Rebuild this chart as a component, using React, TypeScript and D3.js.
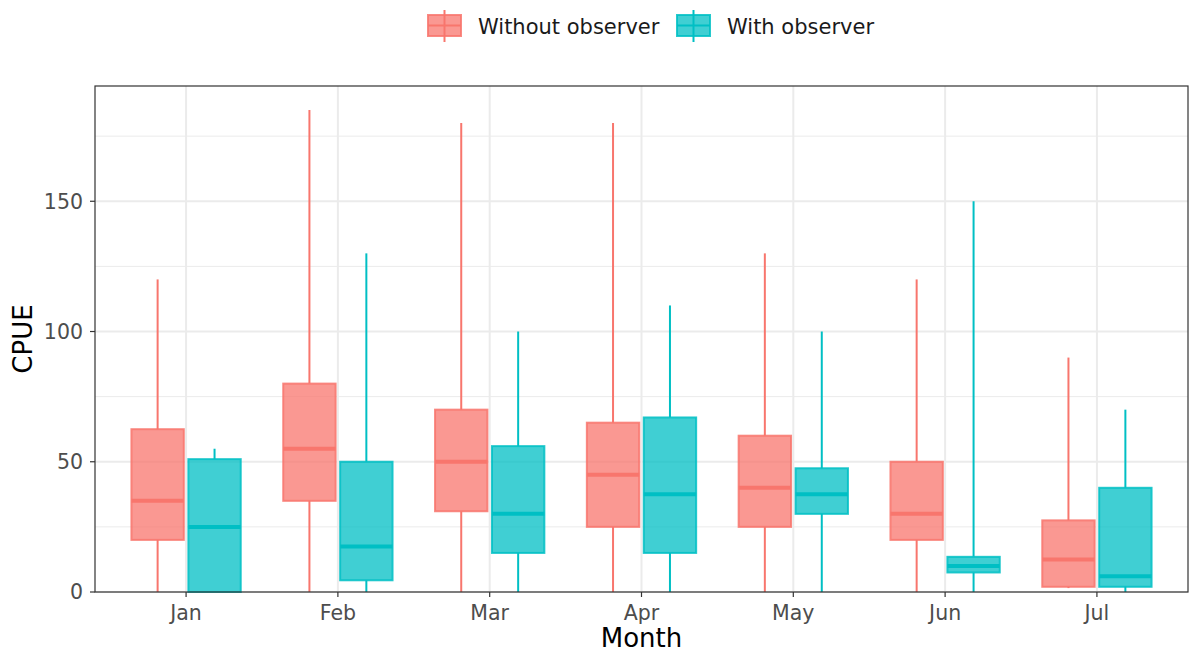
import * as d3 from "d3";

// month categories
const months = ["Jan", "Feb", "Mar", "Apr", "May", "Jun", "Jul"];
const groups = ["Without observer", "With observer"];

// boxplot stats per month: [lower, q1, median, q3, upper]
const withoutObs = [
  [0, 20, 35, 62.5, 120],
  [0, 35, 55, 80, 185],
  [0, 31, 50, 70, 180],
  [0, 25, 45, 65, 180],
  [0, 25, 40, 60, 130],
  [0, 20, 30, 50, 120],
  [1.5, 2, 12.5, 27.5, 90],
];
const withObs = [
  [0, 0, 25, 51, 55],
  [0, 4.5, 17.5, 50, 130],
  [0, 15, 30, 56, 100],
  [0, 15, 37.5, 67, 110],
  [0, 30, 37.5, 47.5, 100],
  [0, 7.5, 10, 13.5, 150],
  [0, 2, 6, 40, 70],
];

const yMajor = [0, 50, 100, 150];
const yMinor = [25, 75, 125, 175];

const colors = ["#F8766D", "#00BFC4"];
const fillOpacity = [0.75, 0.75];

export default function App() {
  const W = 1189;
  const H = 654;
  const margin = { top: 86, right: 1, bottom: 62, left: 95 };
  const x0 = margin.left;
  const x1 = W - margin.right;
  const y0 = H - margin.bottom;
  const y1 = margin.top;

  const x = d3.scaleBand().domain(months).range([x0, x1]).paddingInner(0).paddingOuter(0.1);
  const y = d3.scaleLinear().domain([0, 194.25]).range([y0, y1]);

  const bw = x.bandwidth();
  const dodge = bw * 0.75 / 2;
  const boxW = dodge * 0.92;

  const series = [withoutObs, withObs];

  return (
    <svg width={W} height={H} style={{ position: "absolute", left: 0, top: 0, fontFamily: "DejaVu Sans, sans-serif" }}>
      <rect x={0} y={0} width={W} height={H} fill="#fff" />
      {/* grid */}
      {yMinor.map((v) => (
        <line key={"mi" + v} x1={x0} x2={x1} y1={y(v)} y2={y(v)} stroke="#EBEBEB" strokeWidth={1} />
      ))}
      {yMajor.map((v) => (
        <line key={"ma" + v} x1={x0} x2={x1} y1={y(v)} y2={y(v)} stroke="#EBEBEB" strokeWidth={2} />
      ))}
      {months.map((m) => {
        const cx = x(m)! + bw / 2;
        return <line key={"vg" + m} x1={cx} x2={cx} y1={y0} y2={y1} stroke="#EBEBEB" strokeWidth={2} />;
      })}

      {/* boxes */}
      {series.map((data, gi) =>
        data.map((d, i) => {
          const cx = x(months[i])! + bw / 2 + (gi === 0 ? -dodge / 2 : dodge / 2);
          const [lo, q1, med, q3, hi] = d;
          const c = colors[gi];
          return (
            <g key={gi + "-" + i}>
              <line x1={cx} x2={cx} y1={y(hi)} y2={y(q3)} stroke={c} strokeWidth={2} />
              <line x1={cx} x2={cx} y1={y(q1)} y2={y(lo)} stroke={c} strokeWidth={2} />
              <rect
                x={cx - boxW / 2}
                y={y(q3)}
                width={boxW}
                height={y(q1) - y(q3)}
                fill={c}
                fillOpacity={fillOpacity[gi]}
                stroke={c}
                strokeOpacity={0.85}
                strokeWidth={2}
              />
              <line x1={cx - boxW / 2} x2={cx + boxW / 2} y1={y(med)} y2={y(med)} stroke={c} strokeWidth={4} />
            </g>
          );
        })
      )}

      {/* panel border */}
      <rect x={x0} y={y1} width={x1 - x0} height={y0 - y1} fill="none" stroke="#333333" strokeWidth={1.2} />

      {/* y axis */}
      {yMajor.map((v) => (
        <g key={"yt" + v}>
          <line x1={x0 - 5} x2={x0} y1={y(v)} y2={y(v)} stroke="#333333" strokeWidth={1.2} />
          <text x={x0 - 12} y={y(v)} dy="0.36em" textAnchor="end" fontSize={20.5} fill="#4D4D4D">
            {v}
          </text>
        </g>
      ))}
      {/* x axis */}
      {months.map((m) => {
        const cx = x(m)! + bw / 2;
        return (
          <g key={"xt" + m}>
            <line x1={cx} x2={cx} y1={y0} y2={y0 + 5} stroke="#333333" strokeWidth={1.2} />
            <text x={cx} y={y0 + 28} textAnchor="middle" fontSize={20.5} fill="#4D4D4D">
              {m}
            </text>
          </g>
        );
      })}

      <text x={(x0 + x1) / 2} y={647} textAnchor="middle" fontSize={26} fill="#000">
        Month
      </text>
      <text transform={`translate(32, ${(y0 + y1) / 2}) rotate(-90)`} textAnchor="middle" fontSize={26} fill="#000">
        CPUE
      </text>

      {/* legend */}
      {groups.map((g, gi) => {
        const lx = gi === 0 ? 428 : 677;
        const kw = 33;
        const c = colors[gi];
        return (
          <g key={"lg" + g}>
            <line x1={lx + kw / 2} x2={lx + kw / 2} y1={10} y2={42} stroke={c} strokeWidth={2} />
            <rect x={lx} y={15} width={kw} height={21} fill={c} fillOpacity={fillOpacity[gi]} stroke={c} strokeOpacity={0.85} strokeWidth={2} />
            <line x1={lx} x2={lx + kw} y1={25.5} y2={25.5} stroke={c} strokeWidth={2} />
            <text x={lx + 50} y={26} dy="0.36em" fontSize={21} fill="#1a1a1a">
              {g}
            </text>
          </g>
        );
      })}
    </svg>
  );
}
